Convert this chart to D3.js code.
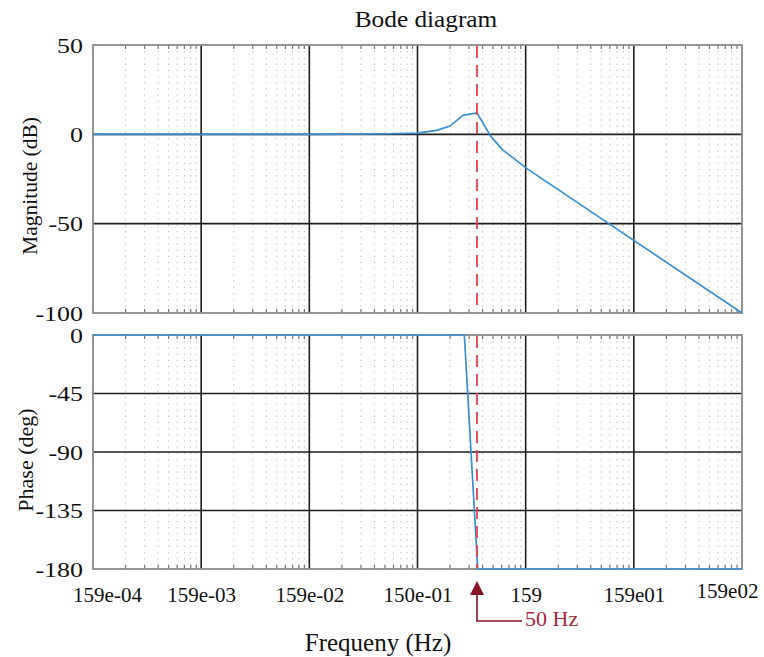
<!DOCTYPE html>
<html>
<head>
<meta charset="utf-8">
<script src="https://cdn.jsdelivr.net/npm/d3@7"></script>
<style>
  body { margin: 0; background: #fff; }
  svg text { font-family: "Liberation Serif", "Times New Roman", serif; fill: #111; }
</style>
</head>
<body>
<svg width="764" height="657"></svg>
<script>
// decade ticks on the frequency axis (labels as printed on the original)
const decadeFreqs = [0.0159, 0.159, 1.59, 15.9, 159, 1590, 15900];
const decadeLabels = ["159e-04", "159e-03", "159e-02", "150e-01", "159", "159e01", "159e02"];

// magnitude response
const magFreq = [0.0159, 2, 7.1, 15.9, 24, 31.7, 41.9, 56.4, 76, 98, 166, 934, 15900];
const magDb   = [0, 0, 0.2, 0.7, 2.2, 4.6, 10.6, 12, -1.3, -8.8, -19.5, -50, -100];

// phase response
const phaseFreq = [0.0159, 43.1, 57.3, 15900];
const phaseDeg  = [0, 0, -180, -180];

const magTicks = [50, 0, -50, -100];
const phaseTicks = [0, -45, -90, -135, -180];

const markerFreq = 56.4;
const markerLabel = "50 Hz";

const svg = d3.select("svg");

const x = d3.scaleLog().domain([0.0159, 15900]).range([93, 742]);
const yMag = d3.scaleLinear().domain([-100, 50]).range([313, 45]);
const yPh = d3.scaleLinear().domain([-180, 0]).range([569, 335]);

// minor (2..9) positions inside every decade
var minorFreqs = [];
decadeFreqs.slice(0, -1).forEach(d => {
    for (var m = 2; m <= 9; m++) minorFreqs.push(d * m);
});

function drawPanel(y, ticks, series) {
    var top = y.range()[1], bottom = y.range()[0];
    var left = x.range()[0], right = x.range()[1];
    var g = svg.append("g");

    // dotted minor grid
    g.append("g").selectAll("line")
        .data(minorFreqs)
        .join("line")
        .attr("x1", d => x(d)).attr("x2", d => x(d))
        .attr("y1", top).attr("y2", bottom)
        .attr("stroke", "#b8b8b8")
        .attr("stroke-width", 1)
        .attr("stroke-dasharray", "1.2,5");

    // minor ticks on top and bottom edges
    g.append("g").selectAll("line")
        .data(minorFreqs)
        .join("line")
        .attr("x1", d => x(d)).attr("x2", d => x(d))
        .attr("y1", bottom).attr("y2", bottom - 4)
        .attr("stroke", "#777").attr("stroke-width", 1.2);
    g.append("g").selectAll("line")
        .data(minorFreqs)
        .join("line")
        .attr("x1", d => x(d)).attr("x2", d => x(d))
        .attr("y1", top).attr("y2", top + 4)
        .attr("stroke", "#777").attr("stroke-width", 1.2);

    // major grid
    g.append("g").selectAll("line")
        .data(decadeFreqs.slice(1, -1))
        .join("line")
        .attr("x1", d => x(d)).attr("x2", d => x(d))
        .attr("y1", top).attr("y2", bottom)
        .attr("stroke", "#1e1e1e").attr("stroke-width", 1.6);
    g.append("g").selectAll("line")
        .data(ticks.slice(1, -1))
        .join("line")
        .attr("x1", left).attr("x2", right)
        .attr("y1", d => y(d)).attr("y2", d => y(d))
        .attr("stroke", "#1e1e1e").attr("stroke-width", 1.6);

    // frame
    g.append("rect")
        .attr("x", left).attr("y", top)
        .attr("width", right - left).attr("height", bottom - top)
        .attr("fill", "none")
        .attr("stroke", "#8a8a8a").attr("stroke-width", 1.8);

    // y tick labels (plain hyphen, slightly wide like the original)
    var ax = g.append("g")
        .attr("transform", "translate(" + left + ",0)")
        .call(d3.axisLeft(y).tickValues(ticks).tickSize(0).tickPadding(8.5).tickFormat(d => String(d)));
    ax.select(".domain").remove();
    ax.selectAll("text")
        .attr("font-size", 22)
        .attr("fill", "#111")
        .attr("transform", "scale(1.18,1)")
        .style("font-family", "'Liberation Serif', serif");

    // response curve
    g.append("path")
        .datum(series)
        .attr("d", d3.line().x(d => x(d[0])).y(d => y(d[1])))
        .attr("fill", "none")
        .attr("stroke", "#3a8fd2")
        .attr("stroke-width", 1.7);

    // marker line
    g.append("line")
        .attr("x1", x(markerFreq)).attr("x2", x(markerFreq))
        .attr("y1", top + 1).attr("y2", bottom - 1)
        .attr("stroke", "#e8404f")
        .attr("stroke-width", 1.8)
        .attr("stroke-dasharray", "12,7");
    return g;
}

drawPanel(yMag, magTicks, d3.zip(magFreq, magDb));
drawPanel(yPh, phaseTicks, d3.zip(phaseFreq, phaseDeg));

// frequency labels under the phase plot
var xa = svg.append("g")
    .attr("transform", "translate(0," + yPh.range()[0] + ")")
    .call(d3.axisBottom(x).tickValues(decadeFreqs).tickSize(0).tickPadding(18)
        .tickFormat((d, i) => decadeLabels[i]));
xa.select(".domain").remove();
xa.selectAll("text")
    .attr("font-size", 21)
    .attr("fill", "#111")
    .style("font-family", "'Liberation Serif', serif");
xa.selectAll("text").filter((d, i) => i == 0).attr("dx", 14);
xa.selectAll("text").filter((d, i) => i == decadeFreqs.length - 1).attr("dx", -15).attr("y", 14);

// arrow annotation
var mx = x(markerFreq);
svg.append("path")
    .attr("d", d3.line()([[mx, 581], [mx - 7, 595], [mx + 7, 595]]) + "Z")
    .attr("fill", "#8a1126");
svg.append("path")
    .attr("d", d3.line()([[mx, 594], [mx, 621], [522, 621]]))
    .attr("fill", "none")
    .attr("stroke", "#8a1126")
    .attr("stroke-width", 1.6);
svg.append("text")
    .attr("x", 525).attr("y", 626)
    .attr("font-size", 22)
    .style("fill", "#a8283c")
    .text(markerLabel);

// titles
svg.append("g")
    .attr("transform", "translate(426,27)")
    .append("text")
    .attr("transform", "scale(1.1,1)")
    .attr("text-anchor", "middle")
    .attr("font-size", 23)
    .text("Bode diagram");

svg.append("text")
    .attr("x", 378).attr("y", 651)
    .attr("text-anchor", "middle")
    .attr("font-size", 25)
    .text("Frequeny (Hz)");

svg.append("text")
    .attr("transform", "translate(29,186) rotate(-90)")
    .attr("text-anchor", "middle")
    .attr("dy", "0.35em")
    .attr("font-size", 21.5)
    .text("Magnitude (dB)");

svg.append("text")
    .attr("transform", "translate(25,460) rotate(-90)")
    .attr("text-anchor", "middle")
    .attr("dy", "0.35em")
    .attr("font-size", 22)
    .text("Phase (deg)");
</script>
</body>
</html>
